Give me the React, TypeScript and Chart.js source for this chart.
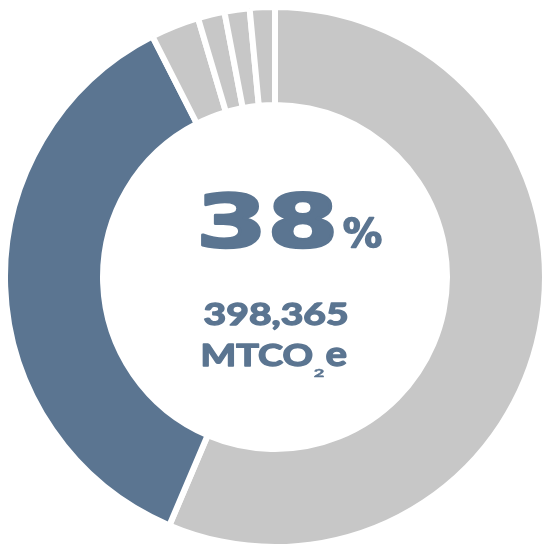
import React, { useEffect, useRef } from "react";
import { Chart, registerables } from "chart.js";

Chart.register(...registerables);

// Data (share of total, in %), clockwise from 12 o'clock
const categories = ["Other emissions", "Highlighted sector", "Minor 1", "Minor 2", "Minor 3", "Minor 4"];
const shares = [56.4, 36.1, 2.9, 1.6, 1.5, 1.5];
const sliceColors = ["#c7c7c7", "#5b7591", "#c7c7c7", "#c7c7c7", "#c7c7c7", "#c7c7c7"];

// Centre texts
const headlineValue = "38";
const headlineUnit = "%";
const amountText = "398,365";
const unitMain = "MTCO";
const unitSub = "2";
const unitTail = "e";

const TEXT_COLOR = "#5b7591";

function fitText(
  ctx: CanvasRenderingContext2D,
  text: string,
  font: string,
  left: number,
  baseline: number,
  width: number,
  height: number,
  grow: number
) {
  ctx.save();
  ctx.font = font;
  ctx.textBaseline = "alphabetic";
  ctx.textAlign = "left";
  const m = ctx.measureText(text);
  const inkW = m.actualBoundingBoxLeft + m.actualBoundingBoxRight;
  const inkH = m.actualBoundingBoxAscent;
  const w = width - grow;
  const h = height - grow;
  const sx = inkW > 0 ? w / inkW : 1;
  const sy = inkH > 0 ? h / inkH : 1;
  ctx.translate(left + grow / 2, baseline - grow / 2);
  ctx.scale(sx, sy);
  ctx.fillStyle = TEXT_COLOR;
  ctx.fillText(text, m.actualBoundingBoxLeft, 0);
  if (grow > 0) {
    ctx.strokeStyle = TEXT_COLOR;
    ctx.lineJoin = "round";
    ctx.lineWidth = grow / ((sx + sy) / 2);
    ctx.strokeText(text, m.actualBoundingBoxLeft, 0);
  }
  ctx.restore();
}

const centerTextPlugin = {
  id: "centerText",
  afterDraw(chart: any) {
    const ctx: CanvasRenderingContext2D = chart.ctx;
    const heavy = "bold 80px 'DejaVu Sans', sans-serif";
    const bold = "bold 33px Lato, 'DejaVu Sans', sans-serif";
    fitText(ctx, headlineValue, heavy, 201, 248, 133, 58, 3);
    fitText(ctx, headlineUnit, heavy, 343, 248, 39, 31, 1.5);
    fitText(ctx, amountText, bold, 204, 326, 144, 24, 1.6);
    fitText(ctx, unitMain, bold, 202, 367, 111, 24, 1.6);
    fitText(ctx, unitSub, bold, 314, 377, 10, 9, 0.6);
    fitText(ctx, unitTail, bold, 326, 367, 21, 19, 1.4);
  },
};

export default function App() {
  const canvasRef = useRef<HTMLCanvasElement | null>(null);

  useEffect(() => {
    if (!canvasRef.current) return;
    const chart = new Chart(canvasRef.current, {
      type: "doughnut",
      data: {
        labels: categories,
        datasets: [
          {
            data: shares,
            backgroundColor: sliceColors,
            borderColor: "#ffffff",
            borderWidth: 6,
            hoverOffset: 0,
          },
        ],
      },
      options: {
        animation: false,
        responsive: false,
        devicePixelRatio: 1,
        radius: 270,
        cutout: "63.7%",
        layout: { padding: { left: 8, top: 8, right: 0, bottom: 0 } },
        plugins: {
          legend: { display: false },
          tooltip: { enabled: false },
        },
        events: [],
      } as any,
      plugins: [centerTextPlugin],
    });
    return () => chart.destroy();
  }, []);

  return (
    <div style={{ position: "fixed", left: 0, top: 0, width: 542, height: 546, background: "#ffffff", overflow: "hidden" }}>
      <canvas ref={canvasRef} width={542} height={546} style={{ display: "block", width: 542, height: 546 }} />
    </div>
  );
}
